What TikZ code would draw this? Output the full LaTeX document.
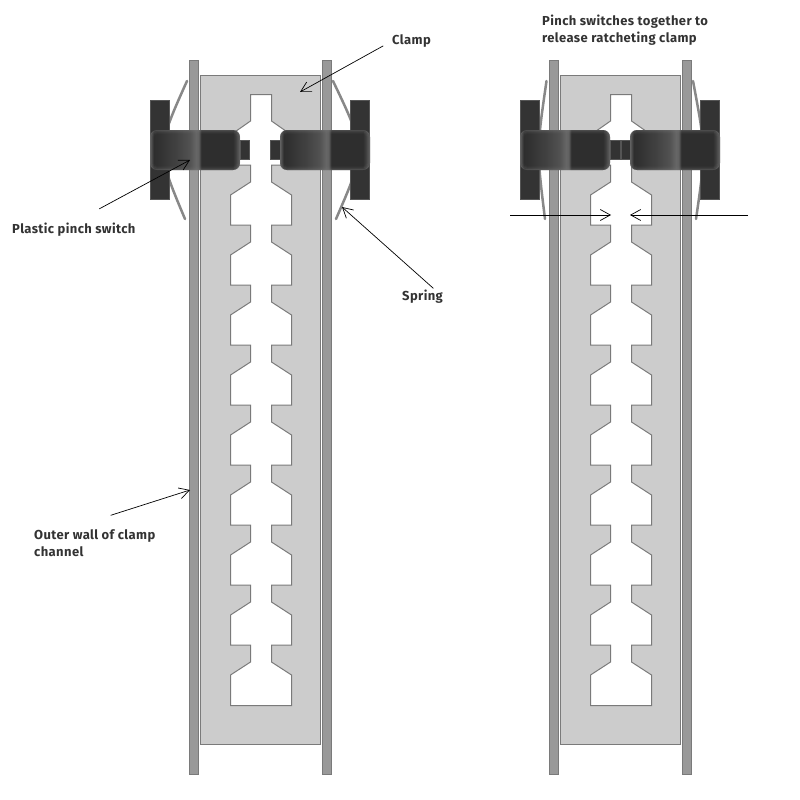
\documentclass[tikz,border=0pt]{standalone}
\usepackage{fontspec}
\setmainfont{Fira Sans}[LetterSpace=3]
\usetikzlibrary{arrows.meta}
\definecolor{wallgray}{RGB}{153, 153, 153}
\definecolor{edgegray}{RGB}{122, 122, 122}
\definecolor{clampgray}{RGB}{204, 204, 204}
\definecolor{springgray}{RGB}{136, 136, 136}
\definecolor{plategray}{RGB}{51, 51, 51}
\definecolor{plateedge}{RGB}{85, 85, 85}
\definecolor{textdark}{RGB}{51, 51, 51}
\pgfdeclarehorizontalshading{pinchshade}{100bp}{
  color(0bp)=(plateedge);
  color(25bp)=(plateedge);
  color(27bp)=(black!82);
  color(31bp)=(black!80);
  color(40bp)=(black!74);
  color(47bp)=(black!68);
  color(50.5bp)=(black!60);
  color(52bp)=(black!62);
  color(53.5bp)=(black!82);
  color(71bp)=(black!82);
  color(75bp)=(plateedge);
  color(100bp)=(plateedge)}

\begin{document}
\begin{tikzpicture}[
    x=1pt, y=-1pt,
    wall/.style={draw=edgegray, fill=wallgray, line width=1pt},
    clampbody/.style={draw=edgegray, fill=clampgray, line width=1pt},
    slot/.style={draw=edgegray, fill=white, line width=1pt},
    springline/.style={draw=springgray, line width=2.5pt, line cap=round},
    plate/.style={draw=plateedge, fill=plategray, line width=0.7pt},
    caption/.style={font=\bfseries\fontsize{13}{17}\selectfont, color=textdark, inner sep=0pt, align=left},
    arrow/.style={-{Straight Barb[length=10pt, width=11pt, line width=0.7pt]}, line width=0.7pt, black},
    channel/.pic={
        % Outer walls
        \draw[wall] (189.5,60.5) rectangle (198.5,774.5);
        \draw[wall] (322.5,60.5) rectangle (331.5,774.5);
        % Clamp with ratchet slot
        \draw[clampbody] (200.5,75.5) rectangle (320.5,744);
        \draw[slot] (250.5,94.5) -- (271.5,94.5) -- (271.5,121)
            foreach \y in {135,195,...,615} {-- (291.5,\y) -- (291.5,{\y+30}) -- (271.5,{\y+30}) -- (271.5,{\y+47})}
            -- (291.5,675) -- (291.5,705.5) -- (230.5,705.5) -- (230.5,675)
            foreach \y in {615,555,...,135} {-- (250.5,{\y+47}) -- (250.5,{\y+30}) -- (230.5,{\y+30}) -- (230.5,\y)}
            -- (250.5,121) -- cycle;
    },
    pinchswitch/.pic={
        \shade[shading=pinchshade, rounded corners=7pt] (0,0) rectangle (90,40);
        \foreach \k/\o in {0.5/0.4, 1.5/0.22, 2.5/0.12, 3.5/0.05}
            \draw[plateedge!80!white, opacity=\o, line width=1pt, rounded corners={7pt-\k pt}] (\k,\k) rectangle ({90-\k},{40-\k});
    },
]
\useasboundingbox (0,0) rectangle (800,800);

% Left: switches apart
\pic at (0,0) {channel};
\draw[springline] (187,81) .. controls (156,150) .. (185,219);
\draw[springline] (333,81) .. controls (366,150) .. (336,219);
\draw[plate] (150.5,100.5) rectangle (169.5,199.5);
\draw[plate] (350.5,100.5) rectangle (369.5,199.5);
\draw[plate] (240,140.5) rectangle (249.5,159.5);
\draw[plate] (270.5,140.5) rectangle (280,159.5);
\pic at (150,130) {pinchswitch};
\pic at (280,130) {pinchswitch};

% Right: switches pinched
\pic at (360,0) {channel};
\draw[springline] (546.5,81) .. controls (536.5,150) .. (545,219);
\draw[springline] (693,81) .. controls (706,150) .. (696,219);
\draw[plate] (520.5,100.5) rectangle (539.5,199.5);
\draw[plate] (700.5,100.5) rectangle (719.5,199.5);
\draw[plate] (610,140.5) rectangle (620,159.5);
\draw[plate] (621,140.5) rectangle (631,159.5);
\pic at (520,130) {pinchswitch};
\pic at (630,130) {pinchswitch};

% Labels
\node[caption, anchor=west] (clamplabel) at (392,41) {Clamp};
\node[caption, anchor=west] (plasticlabel) at (12,229.5) {Plastic pinch switch};
\node[caption, anchor=west] (springlabel) at (402,297) {Spring};
\node[caption, anchor=north west] (walllabel) at (34,529) {Outer wall of clamp\\channel};
\node[caption, anchor=north west] (pinchlabel) at (542,15) {Pinch switches together to\\release ratcheting clamp};

\coordinate (clamptip) at (300,92);
\coordinate (plastictip) at (190,160);
\coordinate (springtip) at (342,207);
\coordinate (walltip) at (190,490);
\coordinate (pressleft) at (510,215);
\coordinate (pressleftend) at (611,215);
\coordinate (pressright) at (748,215);
\coordinate (pressrightend) at (630,215);

\draw[arrow, shorten <=10pt] (clamplabel.west) -- (clamptip);
\draw[arrow, shorten <=29pt] (plasticlabel.north) -- (plastictip);
\draw[arrow, shorten <=13pt] (springlabel.east) -- (springtip);
\draw[arrow, shorten <=45pt] (walllabel.153) -- (walltip);
\draw[arrow] (pressleft) -- (pressleftend);
\draw[arrow] (pressright) -- (pressrightend);

\end{tikzpicture}
\end{document}
